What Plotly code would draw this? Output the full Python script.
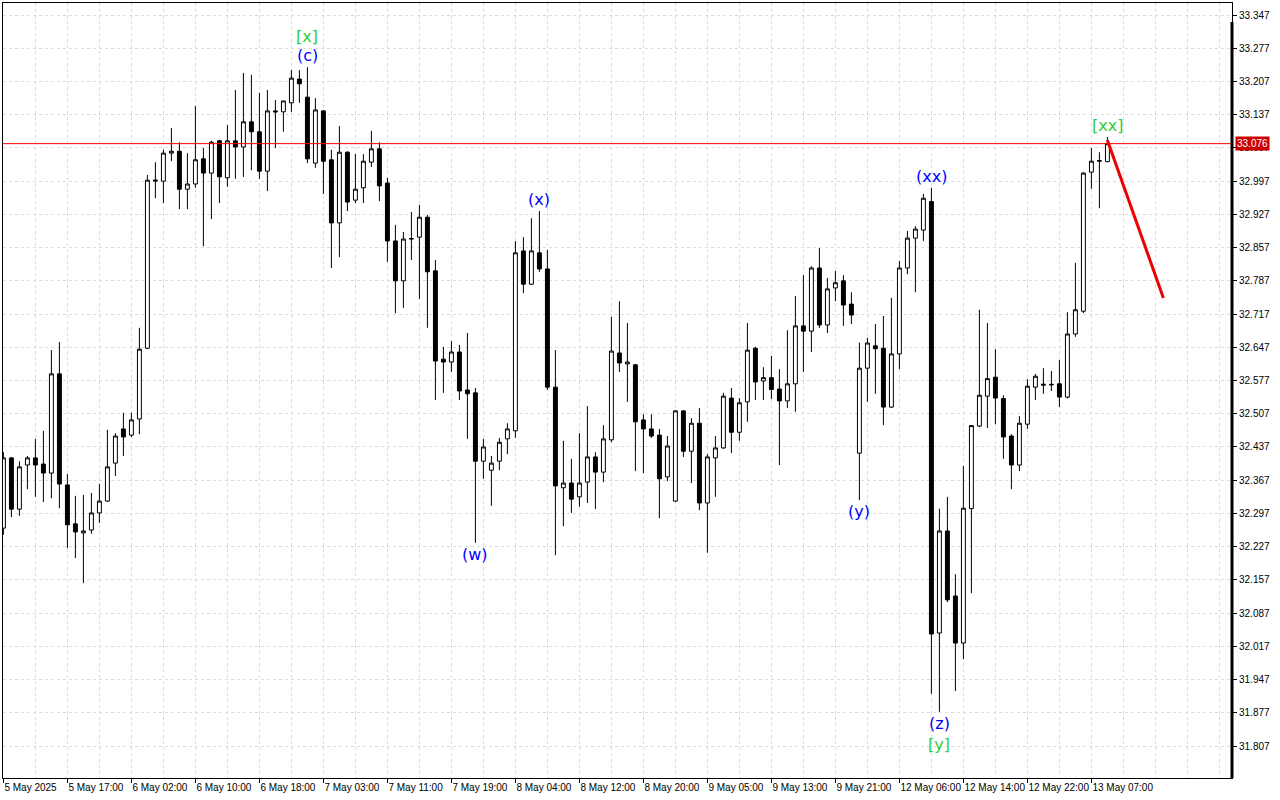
import plotly.graph_objects as go

# ---------------- data (hourly bars, 5 May 2025 09:00 -> 13 May 2025 09:00) ----------------
opens = [32.266, 32.414, 32.306, 32.399, 32.414, 32.401, 32.382, 32.591, 32.357, 32.275,
         32.256, 32.262, 32.298, 32.323, 32.403, 32.475, 32.462, 32.496, 32.645, 32.997,
         32.997, 33.056, 33.060, 32.980, 32.991, 33.044, 33.014, 33.082, 33.004, 33.082,
         33.069, 33.122, 33.101, 33.018, 33.145, 33.143, 33.162, 33.212, 33.174, 33.035,
         33.145, 33.042, 32.909, 33.058, 32.957, 32.983, 33.037, 33.065, 32.993, 32.871,
         32.787, 32.875, 32.879, 32.921, 32.808, 32.622, 32.616, 32.637, 32.557, 32.551,
         32.407, 32.388, 32.407, 32.454, 32.471, 32.850, 32.780, 32.846, 32.812, 32.563,
         32.351, 32.361, 32.332, 32.363, 32.416, 32.384, 32.452, 32.635, 32.612, 32.610,
         32.494, 32.475, 32.462, 32.374, 32.323, 32.513, 32.428, 32.487, 32.319, 32.414,
         32.435, 32.540, 32.468, 32.532, 32.645, 32.576, 32.583, 32.559, 32.534, 32.570,
         32.692, 32.681, 32.814, 32.694, 32.772, 32.787, 32.738, 32.424, 32.603, 32.650,
         32.645, 32.521, 32.633, 32.814, 32.877, 32.894, 32.954, 32.045, 32.260, 32.123,
         32.024, 32.307, 32.481, 32.544, 32.584, 32.539, 32.460, 32.399, 32.485, 32.563,
         32.567, 32.569, 32.570, 32.542, 32.675, 32.723, 33.016, 33.039, 33.038]
highs = [32.426, 32.416, 32.407, 32.418, 32.454, 32.471, 32.641, 32.658, 32.380, 32.334,
         32.336, 32.340, 32.359, 32.473, 32.466, 32.509, 32.509, 32.688, 33.010, 33.037,
         33.063, 33.109, 33.079, 33.056, 33.155, 33.067, 33.082, 33.084, 33.115, 33.189,
         33.225, 33.221, 33.183, 33.189, 33.168, 33.166, 33.231, 33.231, 33.237, 33.172,
         33.147, 33.063, 33.113, 33.060, 33.054, 33.054, 33.103, 33.079, 33.004, 32.905,
         32.890, 32.932, 32.947, 32.926, 32.831, 32.648, 32.660, 32.652, 32.677, 32.561,
         32.454, 32.418, 32.456, 32.487, 32.871, 32.879, 32.919, 32.934, 32.852, 32.641,
         32.450, 32.412, 32.466, 32.523, 32.426, 32.483, 32.711, 32.744, 32.698, 32.612,
         32.506, 32.506, 32.475, 32.460, 32.515, 32.515, 32.498, 32.519, 32.422, 32.460,
         32.551, 32.561, 32.540, 32.698, 32.648, 32.605, 32.629, 32.601, 32.683, 32.755,
         32.799, 32.818, 32.856, 32.793, 32.808, 32.799, 32.763, 32.657, 32.667, 32.696,
         32.713, 32.751, 32.829, 32.892, 32.902, 32.970, 32.983, 32.307, 32.332, 32.169,
         32.397, 32.483, 32.726, 32.698, 32.643, 32.546, 32.464, 32.502, 32.580, 32.591,
         32.603, 32.597, 32.620, 32.721, 32.825, 33.016, 33.067, 33.058, 33.090]
lows = [32.252, 32.289, 32.292, 32.348, 32.332, 32.321, 32.329, 32.308, 32.224, 32.203,
        32.150, 32.254, 32.277, 32.321, 32.376, 32.418, 32.458, 32.464, 32.643, 32.961,
        32.951, 33.039, 32.938, 32.938, 32.983, 32.860, 32.917, 32.951, 32.985, 33.002,
        33.006, 33.020, 33.002, 32.976, 33.067, 33.101, 33.143, 33.162, 33.035, 33.025,
        32.970, 32.814, 32.837, 32.934, 32.951, 32.951, 33.027, 32.955, 32.827, 32.719,
        32.730, 32.831, 32.749, 32.688, 32.536, 32.551, 32.595, 32.536, 32.454, 32.235,
        32.370, 32.313, 32.388, 32.422, 32.456, 32.761, 32.778, 32.806, 32.557, 32.209,
        32.270, 32.298, 32.311, 32.319, 32.306, 32.363, 32.447, 32.595, 32.532, 32.386,
        32.382, 32.456, 32.287, 32.365, 32.321, 32.416, 32.361, 32.304, 32.214, 32.332,
        32.433, 32.424, 32.450, 32.490, 32.536, 32.536, 32.538, 32.399, 32.519, 32.511,
        32.595, 32.637, 32.688, 32.677, 32.744, 32.692, 32.696, 32.325, 32.532, 32.549,
        32.483, 32.519, 32.601, 32.801, 32.763, 32.871, 31.917, 31.879, 32.110, 31.923,
        31.990, 32.129, 32.479, 32.477, 32.485, 32.412, 32.348, 32.386, 32.475, 32.536,
        32.549, 32.555, 32.521, 32.539, 32.669, 32.719, 32.981, 32.940, 33.037]
closes = [32.414, 32.306, 32.395, 32.414, 32.399, 32.382, 32.591, 32.359, 32.273, 32.258,
          32.260, 32.298, 32.323, 32.395, 32.460, 32.458, 32.494, 32.643, 32.999, 32.999,
          33.056, 33.060, 32.980, 32.991, 33.042, 33.014, 33.079, 33.006, 33.082, 33.069,
          33.122, 33.101, 33.018, 33.145, 33.143, 33.166, 33.214, 33.202, 33.044, 33.147,
          33.039, 32.909, 33.058, 32.953, 32.980, 33.039, 33.065, 32.987, 32.871, 32.787,
          32.875, 32.876, 32.921, 32.806, 32.618, 32.616, 32.637, 32.555, 32.549, 32.407,
          32.437, 32.403, 32.447, 32.475, 32.846, 32.780, 32.850, 32.812, 32.563, 32.355,
          32.361, 32.327, 32.361, 32.416, 32.384, 32.454, 32.639, 32.614, 32.616, 32.490,
          32.475, 32.460, 32.370, 32.439, 32.513, 32.428, 32.487, 32.319, 32.416, 32.435,
          32.544, 32.468, 32.530, 32.641, 32.574, 32.583, 32.558, 32.534, 32.570, 32.692,
          32.681, 32.814, 32.694, 32.770, 32.783, 32.736, 32.715, 32.603, 32.656, 32.644,
          32.521, 32.633, 32.814, 32.877, 32.896, 32.961, 32.043, 32.260, 32.115, 32.024,
          32.308, 32.482, 32.546, 32.581, 32.540, 32.458, 32.399, 32.487, 32.565, 32.586,
          32.569, 32.568, 32.542, 32.675, 32.726, 33.014, 33.039, 33.040, 33.076]

bar_index = list(range(len(closes)))

# time-axis labels (one every 8 bars)
time_label_bars = [0, 8, 16, 24, 32, 40, 48, 56, 64, 72, 80, 88, 96, 104, 112, 120, 128, 136]
time_labels = ["5 May 2025", "5 May 17:00", "6 May 02:00", "6 May 10:00", "6 May 18:00",
               "7 May 03:00", "7 May 11:00", "7 May 19:00", "8 May 04:00", "8 May 12:00",
               "8 May 20:00", "9 May 05:00", "9 May 13:00", "9 May 21:00", "12 May 06:00",
               "12 May 14:00", "12 May 22:00", "13 May 07:00"]
grid_bars = list(range(0, 156, 4))

# price axis labels
price_ticks = [31.807 + 0.07 * k for k in range(23)]
price_labels = [f"{v:.3f}" for v in price_ticks]

last_price = 33.076

# forecast line
forecast_x = [138, 145]
forecast_y = [33.083, 32.751]

# wave labels: (bar, text, colour, side, extra offset)
wave_labels = [
    (38, "(c)", "#0000ff", "high", 0),
    (38, "[x]", "#32cd32", "high", 19),
    (67, "(x)", "#0000ff", "high", 0),
    (59, "(w)", "#0000ff", "low", 0),
    (107, "(y)", "#0000ff", "low", 0),
    (116, "(xx)", "#0000ff", "high", 0),
    (117, "(z)", "#0000ff", "low", 0),
    (117, "[y]", "#32cd32", "low", 21),
    (138, "[xx]", "#32cd32", "high", 0),
]

# ---------------- figure ----------------
fig = go.Figure()
fig.add_trace(go.Candlestick(
    x=bar_index, open=opens, high=highs, low=lows, close=closes,
    increasing=dict(line=dict(color="black", width=1), fillcolor="white"),
    decreasing=dict(line=dict(color="black", width=1), fillcolor="black"),
    whiskerwidth=0, hoverinfo="skip", showlegend=False,
))
fig.add_trace(go.Scatter(
    x=forecast_x, y=forecast_y, mode="lines",
    line=dict(color="#ee0000", width=3), showlegend=False, hoverinfo="skip",
))

# current price line
fig.add_shape(type="line", xref="paper", x0=0, x1=1, yref="y", y0=last_price, y1=last_price,
              line=dict(color="#ff0000", width=1))
# thick right separator
fig.add_shape(type="line", xref="paper", x0=1, x1=1, yref="paper", y0=0, y1=0.9755,
              line=dict(color="black", width=3))

fig.add_annotation(xref="paper", x=1, xanchor="left", xshift=3, y=last_price, yref="y",
                   text=f"{last_price:.3f}", showarrow=False, bgcolor="#cc0000",
                   font=dict(color="white", size=10, family="Liberation Sans"), borderpad=1)

for bar, txt, col, side, off in wave_labels:
    if side == "high":
        fig.add_annotation(x=bar, y=highs[bar], text=txt, showarrow=False, yanchor="bottom",
                           yshift=off, font=dict(color=col, size=16, family="DejaVu Sans"))
    else:
        fig.add_annotation(x=bar, y=lows[bar], text=txt, showarrow=False, yanchor="top",
                           yshift=-off, font=dict(color=col, size=16, family="DejaVu Sans"))

grid_col = "#dcdcdc"
fig.update_layout(
    width=1280, height=800,
    margin=dict(l=3, r=48, t=3, b=22, autoexpand=False),
    paper_bgcolor="white", plot_bgcolor="white",
    showlegend=False,
    font=dict(family="Liberation Sans", size=10, color="black"),
    xaxis=dict(
        range=[-0.05, 153.575], automargin=False, tickangle=0,
        tickmode="array", tickvals=time_label_bars, ticktext=time_labels,
        ticks="outside", ticklen=4, tickcolor="black",
        ticklabelposition="outside right",
        showgrid=False,
        minor=dict(tickmode="array", tickvals=grid_bars, showgrid=True,
                   gridcolor=grid_col, griddash="3px,3px", gridwidth=1, ticks=""),
        showline=True, mirror=True, linecolor="black", linewidth=1,
        zeroline=False, rangeslider=dict(visible=False), fixedrange=True,
    ),
    yaxis=dict(
        side="right", range=[31.7396, 33.3723], automargin=False,
        tickmode="array", tickvals=price_ticks, ticktext=price_labels,
        ticks="outside", ticklen=4, tickcolor="black",
        showgrid=True, gridcolor=grid_col, griddash="3px,3px", gridwidth=1,
        showline=True, mirror=True, linecolor="black", linewidth=1,
        zeroline=False, fixedrange=True,
    ),
)

fig.write_html("out.html", config={"displayModeBar": False},
               post_script="document.body.style.margin='0';document.body.style.padding='0';")
